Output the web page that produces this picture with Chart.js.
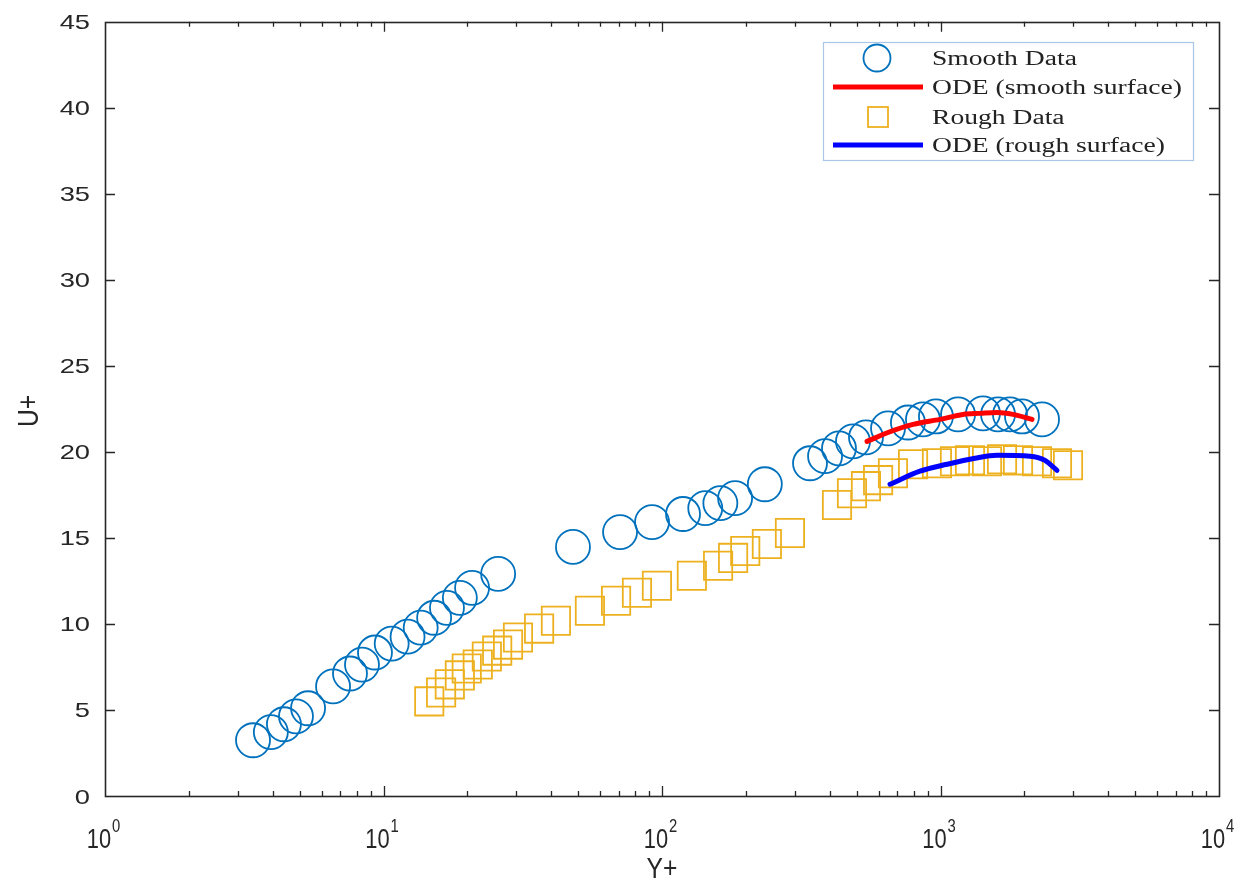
<!DOCTYPE html>
<html>
<head>
<meta charset="utf-8">
<script src="https://cdn.jsdelivr.net/npm/chart.js@4"></script>
<style>
  html, body { margin: 0; padding: 0; background: #ffffff; }
  #wrap { width: 1251px; height: 883px; }
</style>
</head>
<body>
<div id="wrap"><canvas id="c" width="1251" height="883"></canvas></div>
<script>
// Smooth-wall measurements (Y+, U+)
const smoothY = [3.40, 3.94, 4.39, 4.85, 5.36, 6.59, 7.58, 8.37, 9.32, 10.7, 12.2, 13.6, 15.2, 16.9, 18.8, 20.8, 25.8,
  47.9, 70.7, 92.1, 119, 143, 162, 183, 234,
  340, 385, 432, 485, 540, 648, 764, 865, 963, 1156, 1421, 1609, 1776, 1962, 2315];
const smoothU = [3.24, 3.71, 4.17, 4.63, 5.10, 6.37, 7.12, 7.64, 8.34, 8.86, 9.26, 9.79, 10.36, 10.94, 11.52, 12.10, 12.91,
  14.48, 15.34, 15.92, 16.39, 16.73, 17.02, 17.31, 18.12,
  19.34, 19.75, 20.21, 20.61, 20.85, 21.37, 21.71, 21.89, 22.06, 22.18, 22.24, 22.18, 22.18, 22.06, 21.89];

// Rough-wall measurements (Y+, U+)
const roughY = [14.6, 16.1, 17.3, 18.8, 19.9, 21.8, 23.5, 25.6, 28.0, 30.4, 36.2, 41.6, 55.1, 68.4, 81.3, 95.9,
  128, 159, 180, 199, 238, 288,
  425, 481, 540, 597, 675, 797, 971, 1127, 1276, 1469, 1663, 1898, 2221, 2620, 2870];
const roughU = [5.50, 6.02, 6.49, 7.01, 7.41, 7.64, 8.11, 8.45, 8.80, 9.21, 9.73, 10.19, 10.77, 11.35, 11.81, 12.22,
  12.80, 13.38, 13.84, 14.24, 14.65, 15.29,
  16.91, 17.60, 18.01, 18.36, 18.76, 19.28, 19.34, 19.46, 19.51, 19.46, 19.57, 19.51, 19.46, 19.34, 19.22];

// ODE solutions
const odeSmoothY = [545, 648, 797, 996, 1204, 1386, 1595, 1821, 2131];
const odeSmoothU = [20.61, 21.13, 21.60, 21.89, 22.18, 22.24, 22.29, 22.18, 21.89];
const odeRoughY = [659, 844, 1055, 1330, 1595, 2096, 2372, 2620];
const odeRoughU = [18.12, 18.88, 19.28, 19.63, 19.80, 19.75, 19.51, 18.93];

// Axis ticks and labels
const yTicks = [0, 5, 10, 15, 20, 25, 30, 35, 40, 45];
const xDecades = [0, 1, 2, 3, 4];
const xTitle = 'Y+';
const yTitle = 'U+';
const seriesLabels = ['Smooth Data', 'ODE (smooth surface)', 'Rough Data', 'ODE (rough surface)'];

const pts = (xs, ys) => xs.map((x, i) => ({ x: x, y: ys[i] }));

const AXIS = '#262626';
const SANS = '"Liberation Sans", Arial, sans-serif';
const SERIF = '"Liberation Serif", "Times New Roman", serif';
const BLUE_MARK = '#0072BD';
const GOLD_MARK = '#EDB120';

// text with a horizontal stretch factor
function stretchedText(ctx, text, x, y, font, sx, align) {
  ctx.save();
  ctx.font = font;
  const w = ctx.measureText(text).width * sx;
  let x0 = x;
  if (align === 'right') x0 = x - w;
  else if (align === 'center') x0 = x - w / 2;
  ctx.translate(x0, y);
  ctx.scale(sx, 1);
  ctx.textAlign = 'left';
  ctx.fillText(text, 0, 0);
  ctx.restore();
  return w;
}

// Box, inward ticks, tick labels, axis titles and in-axes legend
const axesPlugin = {
  id: 'axesPlugin',
  afterDraw(chart) {
    const ctx = chart.ctx;
    const a = chart.chartArea;
    const xs = chart.scales.x, ys = chart.scales.y;
    ctx.save();
    ctx.strokeStyle = AXIS;
    ctx.lineWidth = 1.3;
    ctx.beginPath();
    for (let d = 0; d < 4; d++) {
      for (let m = 1; m <= 9; m++) {
        if (m === 1 && d === 0) continue;
        const v = m * Math.pow(10, d);
        const px = Math.round(xs.getPixelForValue(v)) + 0.5;
        const len = (m === 1) ? 10 : 5;
        ctx.moveTo(px, a.bottom); ctx.lineTo(px, a.bottom - len);
        ctx.moveTo(px, a.top); ctx.lineTo(px, a.top + len);
      }
    }
    yTicks.forEach(t => {
      if (t === 0 || t === 45) return;
      const py = Math.round(ys.getPixelForValue(t)) + 0.5;
      ctx.moveTo(a.left, py); ctx.lineTo(a.left + 10, py);
      ctx.moveTo(a.right, py); ctx.lineTo(a.right - 10, py);
    });
    ctx.stroke();
    ctx.lineWidth = 1.6;
    ctx.strokeRect(Math.round(a.left) + 0.5, Math.round(a.top) + 0.5,
      Math.round(a.right - a.left), Math.round(a.bottom - a.top));

    ctx.fillStyle = AXIS;
    ctx.textBaseline = 'alphabetic';

    // y tick labels
    yTicks.forEach(t => {
      const py = ys.getPixelForValue(t);
      stretchedText(ctx, String(t), 90, py + 7.5, '21px ' + SANS, 1.3, 'right');
    });

    // x tick labels 10^n
    xDecades.forEach(n => {
      const px = xs.getPixelForValue(Math.pow(10, n));
      ctx.font = '28px ' + SANS;
      const wb = ctx.measureText('10').width * 0.78;
      ctx.font = '19px ' + SANS;
      const we = ctx.measureText(String(n)).width * 0.78;
      const x0 = px - (wb + we) / 2 - 2;
      stretchedText(ctx, '10', x0, 848, '28px ' + SANS, 0.78, 'left');
      stretchedText(ctx, String(n), x0 + wb + 1, 832, '19px ' + SANS, 0.78, 'left');
    });

    // axis titles
    stretchedText(ctx, xTitle, (a.left + a.right) / 2, 878, '29px ' + SANS, 0.85, 'center');
    ctx.save();
    ctx.translate(38, (a.top + a.bottom) / 2 + 2);
    ctx.rotate(-Math.PI / 2);
    stretchedText(ctx, yTitle, 0, 0, '29px ' + SANS, 0.85, 'center');
    ctx.restore();

    // legend
    const lx = 823.5, ly = 42.5, lw = 370, lh = 118;
    ctx.fillStyle = '#ffffff';
    ctx.fillRect(lx, ly, lw, lh);
    ctx.strokeStyle = '#a9c6e6';
    ctx.lineWidth = 1.2;
    ctx.strokeRect(lx, ly, lw, lh);
    const rows = [58, 87, 117, 145];
    chart.data.datasets.forEach((ds, i) => {
      const ry = rows[i];
      ctx.strokeStyle = ds.borderColor;
      if (ds.showLine) {
        ctx.lineWidth = 5;
        ctx.beginPath();
        ctx.moveTo(833, ry); ctx.lineTo(923, ry);
        ctx.stroke();
      } else if (ds.pointStyle === 'circle') {
        ctx.lineWidth = 1.8;
        ctx.beginPath();
        ctx.arc(877, ry, 13.5, 0, Math.PI * 2);
        ctx.stroke();
      } else {
        ctx.lineWidth = 1.8;
        ctx.strokeRect(868, ry - 10, 20, 20);
      }
      ctx.fillStyle = '#222222';
      stretchedText(ctx, ds.label, 932, ry + 7, '20px ' + SERIF, 1.38, 'left');
    });
    ctx.restore();
  }
};

new Chart(document.getElementById('c'), {
  type: 'scatter',
  data: {
    datasets: [
      {
        label: seriesLabels[0],
        data: pts(smoothY, smoothU),
        order: 4,
        pointStyle: 'circle',
        pointRadius: 17,
        pointBorderWidth: 1.8,
        borderColor: BLUE_MARK,
        backgroundColor: 'rgba(0,0,0,0)',
        showLine: false
      },
      {
        label: seriesLabels[1],
        data: pts(odeSmoothY, odeSmoothU),
        order: 3,
        showLine: true,
        borderColor: '#ff0000',
        borderWidth: 5,
        pointRadius: 0,
        tension: 0.4,
        cubicInterpolationMode: 'monotone',
        borderCapStyle: 'round'
      },
      {
        label: seriesLabels[2],
        data: pts(roughY, roughU),
        order: 2,
        pointStyle: 'rect',
        pointRadius: 20,
        pointBorderWidth: 1.8,
        borderColor: GOLD_MARK,
        backgroundColor: 'rgba(0,0,0,0)',
        showLine: false
      },
      {
        label: seriesLabels[3],
        data: pts(odeRoughY, odeRoughU),
        order: 1,
        showLine: true,
        borderColor: '#0000ff',
        borderWidth: 5,
        pointRadius: 0,
        tension: 0.4,
        cubicInterpolationMode: 'monotone',
        borderCapStyle: 'round'
      }
    ]
  },
  options: {
    responsive: false,
    animation: false,
    layout: { padding: { left: 0, top: 19, right: 32, bottom: 0 } },
    plugins: {
      legend: { display: false },
      tooltip: { enabled: false }
    },
    scales: {
      x: {
        type: 'logarithmic',
        min: 1,
        max: 10000,
        grid: { display: false, drawTicks: false },
        border: { display: false },
        ticks: { display: false },
        afterFit: s => { s.height = 87; }
      },
      y: {
        type: 'linear',
        min: 0,
        max: 45,
        grid: { display: false, drawTicks: false },
        border: { display: false },
        ticks: { display: false },
        afterFit: s => { s.width = 105; }
      }
    }
  },
  plugins: [axesPlugin]
});
</script>
</body>
</html>
